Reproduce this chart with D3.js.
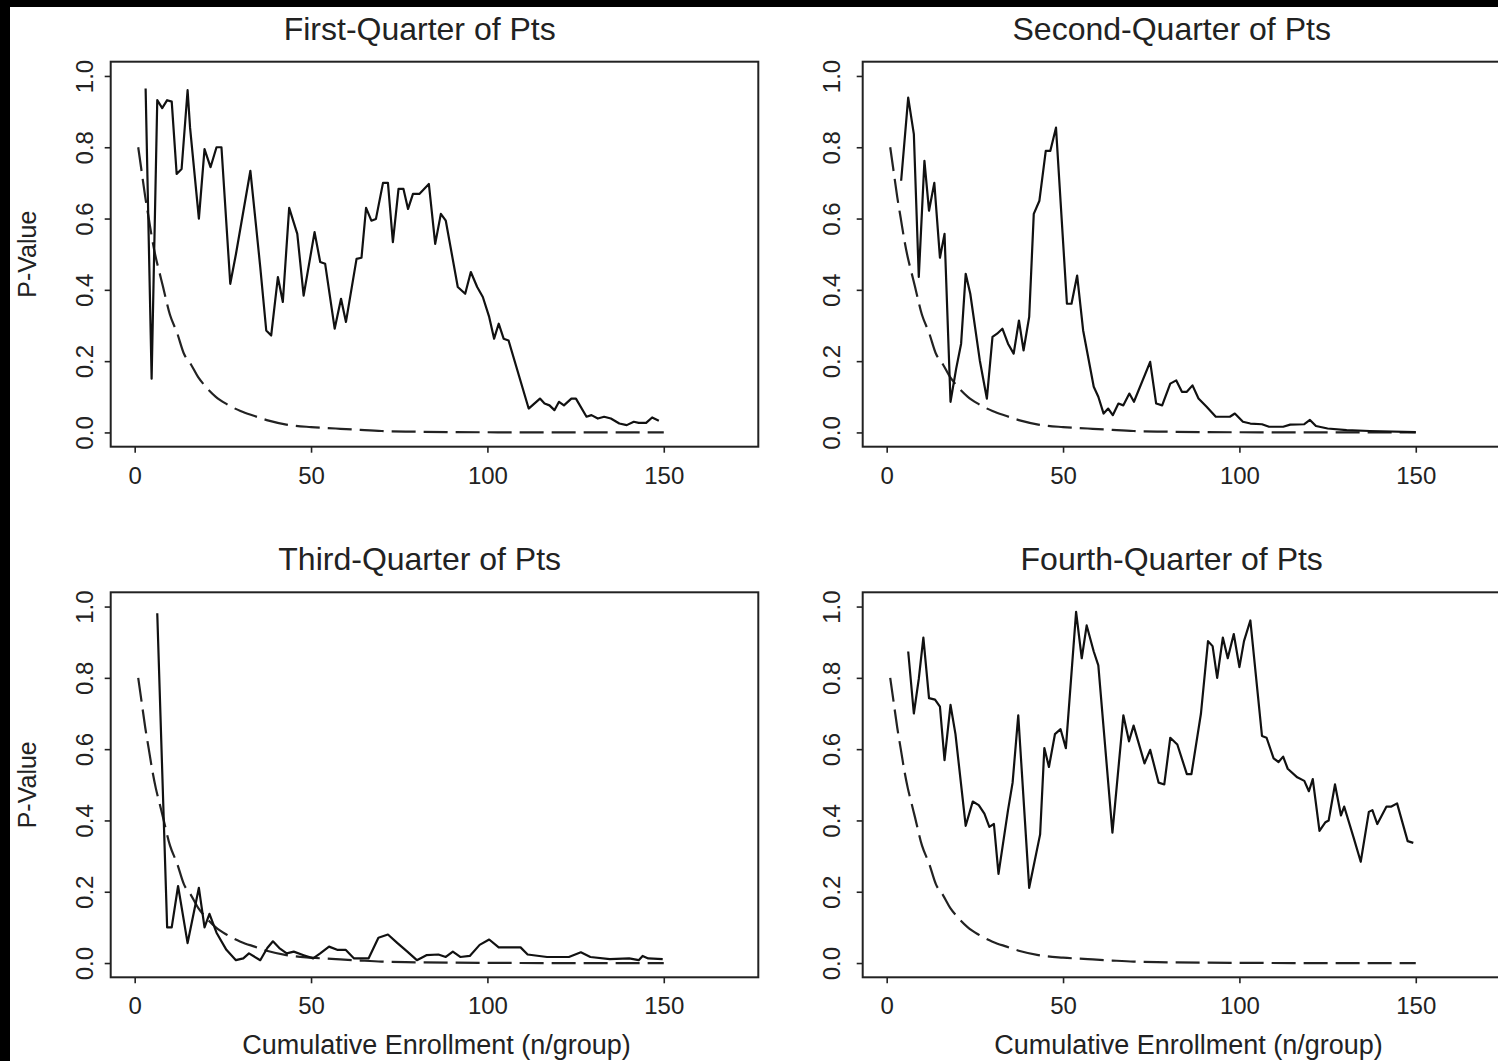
<!DOCTYPE html>
<html>
<head>
<meta charset="utf-8">
<script src="https://cdn.jsdelivr.net/npm/d3@7"></script>
<style>
  body { margin: 0; background: #fff; }
  svg { display: block; font-family: "Liberation Sans", Arial, Helvetica, sans-serif; }
</style>
</head>
<body>
<svg id="chart" width="1498" height="1061"></svg>
<script>
// tick values + labels
const xTicks = [0, 50, 100, 150];
const yTicks = [0, 0.2, 0.4, 0.6, 0.8, 1.0];
const panelTitles = ["First-Quarter of Pts", "Second-Quarter of Pts", "Third-Quarter of Pts", "Fourth-Quarter of Pts"];
const xTitle = "Cumulative Enrollment (n/group)";
const yTitle = "P-Value";

// dashed boundary (same in every panel)
const boundN = [1, 2, 3, 4, 5, 6, 7, 8, 10, 12, 14, 16, 18, 20, 23, 26, 30, 34, 38, 43, 50, 57, 64, 70, 80, 90, 100, 120, 150];
const boundP = [0.80, 0.73, 0.66, 0.60, 0.54, 0.49, 0.45, 0.41, 0.33, 0.28, 0.22, 0.19, 0.155, 0.13, 0.10, 0.08, 0.06, 0.046, 0.033, 0.022, 0.015, 0.011, 0.007, 0.004, 0.002, 0.001, 0.0005, 0, 0];

// first quarter
const q1N = [3.1, 4.8, 6.4, 7.8, 9.2, 10.5, 11.9, 13.3, 15.0, 15.7, 18.2, 19.8, 21.5, 23.2, 24.6, 27.1, 28.7, 32.8, 35.6, 37.3, 38.7, 40.6, 42.0, 43.8, 46.1, 47.9, 51.0, 52.6, 54.0, 56.7, 58.5, 59.9, 62.9, 64.3, 65.6, 67.1, 68.4, 70.4, 71.8, 73.2, 74.8, 76.2, 77.5, 78.9, 80.7, 83.4, 85.2, 86.8, 88.2, 91.6, 93.7, 95.3, 97.1, 98.7, 100.5, 101.9, 103.2, 104.6, 106.0, 111.7, 114.9, 116.2, 117.6, 119.0, 120.3, 121.7, 123.8, 125.1, 128.1, 129.5, 131.3, 133.1, 135.0, 137.4, 139.5, 141.5, 142.9, 145.0, 146.7, 148.6];
const q1P = [0.965, 0.151, 0.932, 0.91, 0.932, 0.928, 0.725, 0.739, 0.96, 0.855, 0.60, 0.795, 0.744, 0.80, 0.80, 0.417, 0.50, 0.734, 0.464, 0.286, 0.272, 0.436, 0.366, 0.63, 0.557, 0.384, 0.562, 0.478, 0.473, 0.291, 0.375, 0.31, 0.487, 0.49, 0.63, 0.594, 0.599, 0.70, 0.70, 0.534, 0.683, 0.683, 0.627, 0.669, 0.669, 0.697, 0.529, 0.613, 0.594, 0.408, 0.389, 0.45, 0.408, 0.38, 0.324, 0.263, 0.305, 0.263, 0.258, 0.067, 0.095, 0.081, 0.076, 0.0625, 0.086, 0.076, 0.095, 0.095, 0.044, 0.0485, 0.039, 0.044, 0.039, 0.025, 0.0205, 0.03, 0.027, 0.027, 0.042, 0.033];

// second quarter
const q2N = [4.1, 6.1, 7.7, 9.1, 10.7, 12.0, 13.5, 15.1, 16.4, 18.1, 19.7, 21.1, 22.4, 23.7, 26.4, 28.4, 30.0, 31.3, 32.8, 34.4, 36.0, 37.5, 38.8, 40.4, 41.7, 43.3, 45.1, 46.4, 48.0, 51.1, 52.4, 54.0, 55.7, 58.7, 60.0, 61.5, 62.8, 64.1, 65.7, 67.1, 68.8, 70.1, 74.7, 76.4, 78.1, 80.4, 82.1, 83.7, 85.1, 86.7, 88.4, 90.7, 93.3, 95.7, 97.3, 98.7, 101.0, 103.1, 106.4, 108.4, 112.4, 114.4, 118.4, 120.0, 121.7, 125.0, 130.4, 137.0, 150.0];
const q2P = [0.706, 0.939, 0.837, 0.436, 0.762, 0.622, 0.70, 0.49, 0.557, 0.086, 0.179, 0.249, 0.445, 0.389, 0.202, 0.095, 0.268, 0.277, 0.291, 0.249, 0.221, 0.314, 0.23, 0.324, 0.613, 0.65, 0.79, 0.79, 0.855, 0.361, 0.361, 0.44, 0.286, 0.128, 0.10, 0.053, 0.067, 0.0485, 0.081, 0.076, 0.109, 0.086, 0.198, 0.081, 0.076, 0.137, 0.146, 0.114, 0.114, 0.132, 0.095, 0.072, 0.044, 0.044, 0.044, 0.053, 0.03, 0.025, 0.023, 0.016, 0.016, 0.022, 0.023, 0.035, 0.018, 0.011, 0.0065, 0.004, 0.001];

// third quarter
const q3N = [6.4, 9.2, 10.5, 12.3, 15.0, 18.2, 19.8, 21.2, 23.2, 26.0, 28.7, 30.8, 32.4, 35.6, 37.6, 39.2, 41.0, 43.1, 45.1, 47.9, 50.6, 52.6, 55.1, 57.4, 59.8, 62.2, 66.3, 69.1, 71.8, 74.5, 77.3, 80.0, 82.7, 86.1, 88.2, 90.2, 92.3, 95.0, 97.8, 100.5, 103.2, 109.4, 111.4, 116.9, 123.1, 126.5, 129.2, 134.7, 140.2, 142.9, 144.0, 145.6, 149.7];
const q3P = [0.981, 0.10, 0.10, 0.216, 0.056, 0.211, 0.10, 0.138, 0.085, 0.037, 0.008, 0.013, 0.027, 0.008, 0.042, 0.061, 0.042, 0.027, 0.032, 0.022, 0.013, 0.027, 0.046, 0.037, 0.037, 0.013, 0.013, 0.071, 0.08, 0.056, 0.032, 0.008, 0.022, 0.024, 0.017, 0.032, 0.017, 0.02, 0.051, 0.066, 0.044, 0.044, 0.024, 0.017, 0.017, 0.03, 0.017, 0.011, 0.013, 0.008, 0.02, 0.013, 0.011];

// fourth quarter
const q4N = [6.1, 7.7, 9.1, 10.4, 12.0, 13.7, 15.1, 16.4, 18.1, 19.5, 22.4, 24.4, 26.1, 27.7, 29.1, 30.4, 31.7, 34.4, 35.7, 37.3, 40.4, 43.5, 44.7, 46.0, 47.7, 49.3, 50.8, 53.7, 55.3, 56.7, 58.7, 60.0, 64.0, 67.1, 68.7, 70.0, 73.1, 74.7, 77.1, 78.7, 80.4, 82.4, 85.1, 86.4, 89.1, 91.1, 92.4, 93.7, 95.3, 96.7, 98.4, 100.0, 101.3, 103.1, 106.4, 107.7, 109.7, 111.1, 112.4, 113.7, 116.4, 118.4, 119.7, 120.8, 122.7, 124.4, 125.3, 127.1, 128.8, 129.7, 132.4, 134.4, 136.7, 137.7, 139.1, 141.7, 143.1, 144.7, 147.7, 149.3];
const q4P = [0.874, 0.70, 0.797, 0.913, 0.743, 0.739, 0.719, 0.569, 0.724, 0.642, 0.385, 0.453, 0.443, 0.419, 0.382, 0.39, 0.25, 0.429, 0.506, 0.695, 0.211, 0.361, 0.603, 0.55, 0.642, 0.656, 0.603, 0.985, 0.855, 0.947, 0.874, 0.835, 0.366, 0.695, 0.622, 0.666, 0.56, 0.598, 0.506, 0.501, 0.632, 0.613, 0.53, 0.53, 0.70, 0.903, 0.889, 0.80, 0.913, 0.855, 0.923, 0.83, 0.903, 0.961, 0.637, 0.632, 0.574, 0.564, 0.579, 0.545, 0.521, 0.511, 0.482, 0.516, 0.371, 0.395, 0.40, 0.501, 0.414, 0.439, 0.351, 0.284, 0.424, 0.429, 0.39, 0.439, 0.439, 0.448, 0.342, 0.337];

const svg = d3.select("#chart");
const ink = "#222";

// black scan edges of the original figure
svg.append("rect").attr("x", 0).attr("y", 0).attr("width", 1498).attr("height", 7).attr("fill", "#000");
svg.append("rect").attr("x", 0).attr("y", 0).attr("width", 10).attr("height", 1061).attr("fill", "#000");

const boxW = 647.6, boxH = 385;
const panels = [
    { title: panelTitles[0], n: q1N, p: q1P, left: 110.7, top: 61.7, col: 0, row: 0 },
    { title: panelTitles[1], n: q2N, p: q2P, left: 862.7, top: 61.7, col: 1, row: 0 },
    { title: panelTitles[2], n: q3N, p: q3P, left: 110.7, top: 592.3, col: 0, row: 1 },
    { title: panelTitles[3], n: q4N, p: q4P, left: 862.7, top: 592.3, col: 1, row: 1 }
];

panels.forEach(function (pn) {
    let x = d3.scaleLinear().domain([-6.8, 176.8]).range([pn.left, pn.left + boxW]);
    let y = d3.scaleLinear().domain([-0.04, 1.04]).range([pn.top + boxH, pn.top]);
    let g = svg.append("g");

    // x axis
    let xa = g.append("g")
        .attr("transform", "translate(0," + (pn.top + boxH) + ")")
        .call(d3.axisBottom(x).tickValues(xTicks).tickSize(6).tickPadding(14).tickSizeOuter(0));
    xa.select(".domain").remove();
    xa.selectAll("line").attr("stroke", ink).attr("stroke-width", 1.6);
    xa.selectAll("text").attr("fill", ink).attr("font-size", 24)
        .attr("font-family", "Liberation Sans, Arial, sans-serif");

    // y axis, labels rotated like base R
    let labOff = pn.col === 0 ? 18 : 23;
    let ya = g.append("g")
        .attr("transform", "translate(" + pn.left + ",0)")
        .call(d3.axisLeft(y).tickValues(yTicks).tickFormat(d3.format(".1f")).tickSize(6).tickSizeOuter(0));
    ya.select(".domain").remove();
    ya.selectAll("line").attr("stroke", ink).attr("stroke-width", 1.6);
    ya.selectAll("text")
        .attr("x", null).attr("dy", null)
        .attr("text-anchor", "middle")
        .attr("transform", "translate(" + (-labOff) + ",0) rotate(-90)")
        .attr("fill", ink).attr("font-size", 24)
        .attr("font-family", "Liberation Sans, Arial, sans-serif");

    // plot box
    g.append("rect")
        .attr("x", pn.left).attr("y", pn.top)
        .attr("width", boxW).attr("height", boxH)
        .attr("fill", "none").attr("stroke", ink).attr("stroke-width", 2);

    // boundary curve
    let bound = boundN.map((d, i) => ({ n: d, p: boundP[i] }));
    g.append("path")
        .datum(bound)
        .attr("fill", "none")
        .attr("stroke", ink)
        .attr("stroke-width", 2.2)
        .attr("stroke-dasharray", "24,8")
        .attr("d", d3.line().x(d => x(d.n)).y(d => y(d.p)).curve(d3.curveMonotoneX));

    // observed p-values
    let obs = pn.n.map((d, i) => ({ n: d, p: pn.p[i] }));
    g.append("path")
        .datum(obs)
        .attr("fill", "none")
        .attr("stroke", "#111")
        .attr("stroke-width", 2.2)
        .attr("stroke-linejoin", "round")
        .attr("d", d3.line().x(d => x(d.n)).y(d => y(d.p)));

    // title
    g.append("text")
        .attr("x", pn.left + 309)
        .attr("y", pn.top - 22)
        .attr("text-anchor", "middle")
        .attr("font-size", 32)
        .attr("fill", ink)
        .text(pn.title);

    if (pn.col === 0) {
        g.append("text")
            .attr("transform", "translate(36," + (pn.top + boxH / 2) + ") rotate(-90)")
            .attr("text-anchor", "middle")
            .attr("font-size", 25)
            .attr("fill", ink)
            .text(yTitle);
    }
    if (pn.row === 1) {
        g.append("text")
            .attr("x", pn.left + boxW / 2 + 2)
            .attr("y", pn.top + boxH + 77)
            .attr("text-anchor", "middle")
            .attr("font-size", 27)
            .attr("fill", ink)
            .text(xTitle);
    }
});
</script>
</body>
</html>
